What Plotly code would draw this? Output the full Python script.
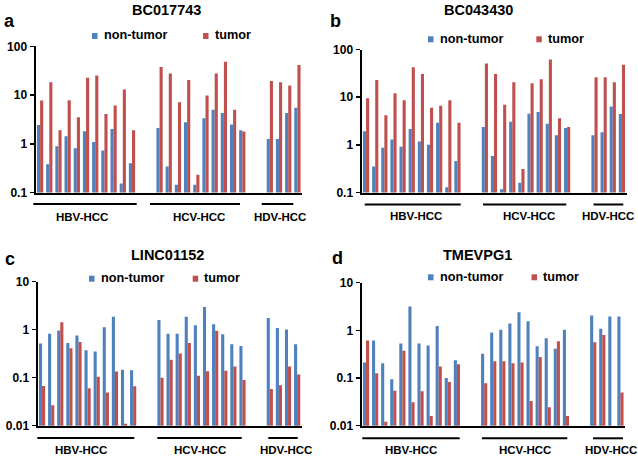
import math
import plotly.graph_objects as go

W, H = 638, 458

# ---------------- data ----------------
samples = ["HBV1", "HBV2", "HBV3", "HBV4", "HBV5", "HBV6", "HBV7", "HBV8", "HBV9", "HBV10", "HBV11",
           "gap1", "gap2",
           "HCV1", "HCV2", "HCV3", "HCV4", "HCV5", "HCV6", "HCV7", "HCV8", "HCV9", "HCV10",
           "gap3", "gap4",
           "HDV1", "HDV2", "HDV3", "HDV4"]
group_labels = ["HBV-HCC", "HCV-HCC", "HDV-HCC"]
series_names = ["non-tumor", "tumor"]
titles = ["BC017743", "BC043430", "LINC01152", "TMEVPG1"]
letters = ["a", "b", "c", "d"]
ticks_hi = ["0.1", "1", "10", "100"]
ticks_lo = ["0.01", "0.1", "1", "10"]

# BC017743
a_non_hbv = [2.44, 0.38, 0.89, 1.43, 0.81, 1.8, 1.09, 0.73, 2.0, 0.153, 0.40]
a_non_hcv = [2.1, 0.34, 0.144, 2.77, 0.144, 3.34, 5.0, 4.3, 2.48, 1.89]
a_non_hdv = [1.26, 1.26, 4.3, 5.46]
a_tum_hbv = [7.7, 18.4, 1.9, 7.8, 3.5, 22.6, 25.3, 4.1, 6.1, 13.0, 1.9]
a_tum_hcv = [37.5, 27.8, 7.1, 20.3, 0.23, 9.8, 27.8, 48.3, 5.0, 1.78]
a_tum_hdv = [19.3, 18.4, 15.7, 41.3]

# BC043430
b_non_hbv = [1.93, 0.35, 0.87, 1.29, 0.91, 2.15, 1.17, 1.0, 2.92, 0.129, 0.46]
b_non_hcv = [2.37, 0.58, 0.117, 3.06, 0.16, 4.5, 4.87, 2.78, 1.59, 2.26]
b_non_hdv = [1.59, 1.84, 6.4, 4.43]
b_tum_hbv = [9.5, 23.0, 4.15, 12.1, 8.66, 42.2, 30.6, 6.0, 6.6, 8.66, 2.92]
b_tum_hcv = [51.0, 30.6, 6.9, 20.5, 0.31, 19.6, 23.7, 62.0, 3.6, 2.37]
b_tum_hdv = [26.1, 26.1, 20.5, 48.0]

# LINC01152
c_non_hbv = [0.513, 0.82, 0.965, 0.53, 0.76, 0.373, 0.35, 1.13, 1.87, 0.147, 0.143]
c_non_hcv = [1.6, 0.82, 0.82, 1.87, 1.24, 2.96, 1.3, 0.80, 0.5, 0.46]
c_non_hdv = [1.76, 1.09, 1.01, 0.5]
c_tum_hbv = [0.067, 0.0267, 1.43, 0.41, 0.555, 0.06, 0.105, 0.049, 0.134, 0.011, 0.066]
c_tum_hcv = [0.1, 0.236, 0.32, 0.53, 0.11, 0.136, 0.95, 0.14, 0.172, 0.09]
c_tum_hdv = [0.058, 0.07, 0.172, 0.116]

# TMEVPG1
d_non_hbv = [0.211, 0.61, 0.205, 0.094, 0.53, 3.15, 0.53, 0.48, 1.24, 0.1, 0.236]
d_non_hcv = [0.324, 0.906, 1.03, 1.39, 2.41, 1.55, 0.467, 0.68, 0.41, 1.03]
d_non_hdv = [2.06, 1.08, 1.96, 1.96]
d_tum_hbv = [0.61, 0.126, 0.0121, 0.054, 0.373, 0.031, 0.053, 0.016, 0.175, 0.083, 0.195]
d_tum_hcv = [0.078, 0.225, 0.225, 0.205, 0.211, 0.033, 0.277, 0.0243, 0.59, 0.016]
d_tum_hdv = [0.56, 0.80, None, 0.05]

GAP = [None, None]


def full(hbv, hcv, hdv):
    return hbv + GAP + hcv + GAP + hdv


panel_data = [
    (full(a_non_hbv, a_non_hcv, a_non_hdv), full(a_tum_hbv, a_tum_hcv, a_tum_hdv), ticks_hi),
    (full(b_non_hbv, b_non_hcv, b_non_hdv), full(b_tum_hbv, b_tum_hcv, b_tum_hdv), ticks_hi),
    (full(c_non_hbv, c_non_hcv, c_non_hdv), full(c_tum_hbv, c_tum_hcv, c_tum_hdv), ticks_lo),
    (full(d_non_hbv, d_non_hcv, d_non_hdv), full(d_tum_hbv, d_tum_hcv, d_tum_hdv), ticks_lo),
]

# ---------------- styling / geometry (pixels) ----------------
BLUE = "#4F81BD"
RED = "#C0504D"
FONT = "Arial, Liberation Sans, sans-serif"

# plot area: x_left, x_right, y_top, y_bottom
areas = [(35.5, 302, 46.3, 192.5), (361.5, 626.5, 49.5, 192.5),
         (37.5, 301.7, 281.7, 425.7), (361.5, 625, 282.7, 425.7)]
title_pos = [(166.7, 10), (478, 10), (167.5, 255.3), (477.7, 255.3)]
letter_pos = [(10, 21), (335.7, 20.7), (10, 259.3), (337, 257.7)]
# legend: blue square left, red square left, y centre
legend_pos = [(92, 203, 36), (428, 536.3, 39.3), (89, 192.7, 278.7), (428, 531.5, 277.3)]
# group lines: y, [(x0,x1) x3]; labels y, [xc x3]
gline = [(204, [(33.3, 136.7), (150, 240), (261.7, 293.3)]),
         (204.5, [(364.7, 460.7), (483, 566.3), (593.5, 623.3)]),
         (438, [(37.3, 134.3), (157.3, 241.7), (268.3, 297.7)]),
         (438.3, [(362.3, 459.7), (482, 567.3), (593, 623)])]
glabel = [(216.7, [81.7, 198.7, 279.5]), (216.5, [416.3, 529, 608]),
          (449.7, [81.2, 199.7, 286]), (450, [411, 525, 611])]


def px(x):
    return x / W


def py(y):
    return 1 - y / H


fig = go.Figure()
annotations = []
shapes = []
layout_axes = {}

for i, (non, tum, tlabels) in enumerate(panel_data):
    n = "" if i == 0 else str(i + 1)
    xa, ya = "x" + n, "y" + n
    fig.add_trace(go.Bar(x=samples, y=non, name=series_names[0], marker_color=BLUE,
                         marker_line_width=0, xaxis=xa, yaxis=ya, showlegend=False))
    fig.add_trace(go.Bar(x=samples, y=tum, name=series_names[1], marker_color=RED,
                         marker_line_width=0, xaxis=xa, yaxis=ya, showlegend=False))
    xl, xr, yt, yb = areas[i]
    tvals = [float(t) for t in tlabels]
    layout_axes["xaxis" + n] = dict(
        domain=[px(xl), px(xr)], anchor=ya, type="category", automargin=False,
        categoryorder="array", categoryarray=samples, range=[-0.5, len(samples) - 0.5],
        showticklabels=False, ticks="", showgrid=False, zeroline=False,
        showline=True, linecolor="black", linewidth=2, fixedrange=True)
    layout_axes["yaxis" + n] = dict(
        domain=[py(yb), py(yt)], anchor=xa, type="log", automargin=False,
        range=[math.log10(min(tvals)), math.log10(max(tvals))],
        tickvals=tvals, ticktext=tlabels, ticks="outside", ticklen=4, tickwidth=1.5,
        tickcolor="black", showgrid=False, zeroline=False,
        showline=True, linecolor="black", linewidth=2, fixedrange=True,
        tickfont=dict(family=FONT, size=12, color="black", weight="bold"))

    tx, ty = title_pos[i]
    annotations.append(dict(text="<b>%s</b>" % titles[i], x=px(tx), y=py(ty), xref="paper",
                            yref="paper", xanchor="center", yanchor="middle", showarrow=False,
                            font=dict(family=FONT, size=14.5, color="black")))
    lx, ly = letter_pos[i]
    annotations.append(dict(text="<b>%s</b>" % letters[i], x=px(lx), y=py(ly), xref="paper",
                            yref="paper", xanchor="center", yanchor="middle", showarrow=False,
                            font=dict(family=FONT, size=18, color="black")))
    bx, rx, ly2 = legend_pos[i]
    for sx, col, name in ((bx, BLUE, series_names[0]), (rx, RED, series_names[1])):
        shapes.append(dict(type="rect", xref="paper", yref="paper", x0=px(sx), x1=px(sx + 5.5),
                           y0=py(ly2 + 3), y1=py(ly2 - 3), fillcolor=col, line=dict(width=0)))
        annotations.append(dict(text="<b>%s</b>" % name, x=px(sx + 9.5), y=py(ly2 - 0.5),
                                xref="paper", yref="paper", xanchor="left", yanchor="middle",
                                showarrow=False, font=dict(family=FONT, size=12.7, color="black")))
    gy, segs = gline[i]
    for x0, x1 in segs:
        shapes.append(dict(type="line", xref="paper", yref="paper", x0=px(x0), x1=px(x1),
                           y0=py(gy), y1=py(gy), line=dict(color="black", width=2)))
    ly3, cx = glabel[i]
    for g, c in zip(group_labels, cx):
        annotations.append(dict(text="<b>%s</b>" % g, x=px(c), y=py(ly3), xref="paper",
                                yref="paper", xanchor="center", yanchor="middle",
                                showarrow=False, font=dict(family=FONT, size=11.5, color="black")))

fig.update_layout(
    template="none",
    width=W, height=H, margin=dict(l=0, r=0, t=0, b=0, pad=0, autoexpand=False),
    paper_bgcolor="white", plot_bgcolor="white",
    barmode="group", bargap=0.32, bargroupgap=0,
    annotations=annotations, shapes=shapes, showlegend=False,
    font=dict(family=FONT, color="black"),
    **layout_axes)

fig.write_html("out.html", config={"displayModeBar": False, "staticPlot": True},
               post_script="document.body.style.margin='0';document.body.style.padding='0';"
                           "document.body.style.overflow='hidden';")
